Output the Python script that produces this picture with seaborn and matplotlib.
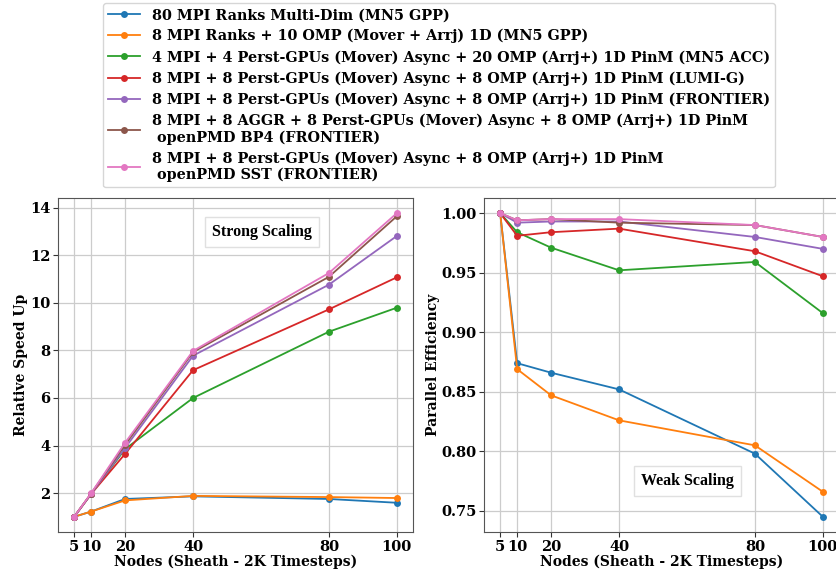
import numpy as np
import pandas as pd
import seaborn as sns
import matplotlib.pyplot as plt

# node counts on the x axis
nodes = [5, 10, 20, 40, 80, 100]

labels = [
    '80 MPI Ranks Multi-Dim (MN5 GPP)',
    '8 MPI Ranks + 10 OMP (Mover + Arrj) 1D (MN5 GPP)',
    '4 MPI + 4 Perst-GPUs (Mover) Async + 20 OMP (Arrj+) 1D PinM (MN5 ACC)',
    '8 MPI + 8 Perst-GPUs (Mover) Async + 8 OMP (Arrj+) 1D PinM (LUMI-G)',
    '8 MPI + 8 Perst-GPUs (Mover) Async + 8 OMP (Arrj+) 1D PinM (FRONTIER)',
    '8 MPI + 8 AGGR + 8 Perst-GPUs (Mover) Async + 8 OMP (Arrj+) 1D PinM\n openPMD BP4 (FRONTIER)',
    '8 MPI + 8 Perst-GPUs (Mover) Async + 8 OMP (Arrj+) 1D PinM\n openPMD SST (FRONTIER)',
]

# strong scaling - relative speed up
speedup_mn5_multidim = [1.0, 1.22, 1.75, 1.86, 1.75, 1.59]
speedup_mn5_omp = [1.0, 1.22, 1.69, 1.88, 1.83, 1.79]
speedup_mn5_acc = [1.0, 1.96, 3.85, 6.0, 8.79, 9.8]
speedup_lumi = [1.0, 1.96, 3.65, 7.17, 9.73, 11.08]
speedup_frontier = [1.0, 1.96, 3.9, 7.78, 10.77, 12.82]
speedup_bp4 = [1.0, 1.98, 4.03, 7.93, 11.1, 13.65]
speedup_sst = [1.0, 1.99, 4.12, 7.98, 11.26, 13.78]

# weak scaling - parallel efficiency
eff_mn5_multidim = [1.0, 0.874, 0.866, 0.852, 0.798, 0.745]
eff_mn5_omp = [1.0, 0.869, 0.847, 0.826, 0.805, 0.766]
eff_mn5_acc = [1.0, 0.984, 0.971, 0.952, 0.959, 0.916]
eff_lumi = [1.0, 0.981, 0.984, 0.987, 0.968, 0.947]
eff_frontier = [1.0, 0.992, 0.993, 0.993, 0.980, 0.970]
eff_bp4 = [1.0, 0.994, 0.995, 0.992, 0.990, 0.980]
eff_sst = [1.0, 0.994, 0.995, 0.995, 0.990, 0.980]

speedups = [speedup_mn5_multidim, speedup_mn5_omp, speedup_mn5_acc, speedup_lumi,
            speedup_frontier, speedup_bp4, speedup_sst]
effs = [eff_mn5_multidim, eff_mn5_omp, eff_mn5_acc, eff_lumi,
        eff_frontier, eff_bp4, eff_sst]

colors = sns.color_palette('tab10', 7)

fig = plt.figure(figsize=(8.37, 5.73), dpi=100)
ax1 = fig.add_axes([0.0693, 0.0716, 0.4241, 0.5829])
ax2 = fig.add_axes([0.5783, 0.0716, 0.4241, 0.5829])

label_font = dict(family='DejaVu Serif', weight='bold', size=10)

for ax, data, ylabel in [(ax1, speedups, 'Relative Speed Up'),
                         (ax2, effs, 'Parallel Efficiency')]:
    for vals, lab, c in zip(data, labels, colors):
        sns.lineplot(x=nodes, y=vals, ax=ax, marker='o', markersize=5,
                     markeredgewidth=0, linewidth=1.3, color=c, label=lab)
    ax.set_xticks(nodes)
    ax.grid(True, color='#cccccc', linewidth=0.9)
    ax.set_axisbelow(True)
    ax.set_xlabel('Nodes (Sheath - 2K Timesteps)', labelpad=1, **label_font)
    ax.set_ylabel(ylabel, labelpad=1, **label_font)
    for t in ax.get_xticklabels() + ax.get_yticklabels():
        t.set_fontfamily('DejaVu Serif')
        t.set_fontweight('bold')
        t.set_fontsize(10.5)
    for s in ax.spines.values():
        s.set_color('#555555')
    ax.tick_params(colors='#333333', labelcolor='black', pad=2)
    ax.get_legend().remove()

ax2.set_yticks([0.75, 0.80, 0.85, 0.90, 0.95, 1.00])
ax2.set_yticklabels(['0.75', '0.80', '0.85', '0.90', '0.95', '1.00'],
                    family='DejaVu Serif', weight='bold', size=10.5)

box = dict(boxstyle='square,pad=0.45', facecolor='white', edgecolor='#e0e0e0')
ax1.text(0.575, 0.898, 'Strong Scaling', transform=ax1.transAxes, ha='center',
         va='center', family='Liberation Serif', weight='bold', size=11.5, bbox=box)
ax2.text(0.573, 0.153, 'Weak Scaling', transform=ax2.transAxes, ha='center',
         va='center', family='Liberation Serif', weight='bold', size=11.5, bbox=box)

handles, labs = ax1.get_legend_handles_labels()
fig.legend(handles, labs, loc='upper center', bbox_to_anchor=(0.5245, 1.007),
           prop=dict(family='DejaVu Serif', weight='bold', size=10.35),
           labelspacing=0.47, handlelength=2.2, handletextpad=0.8, borderpad=0.35)

fig.savefig('out.png', dpi=100)
